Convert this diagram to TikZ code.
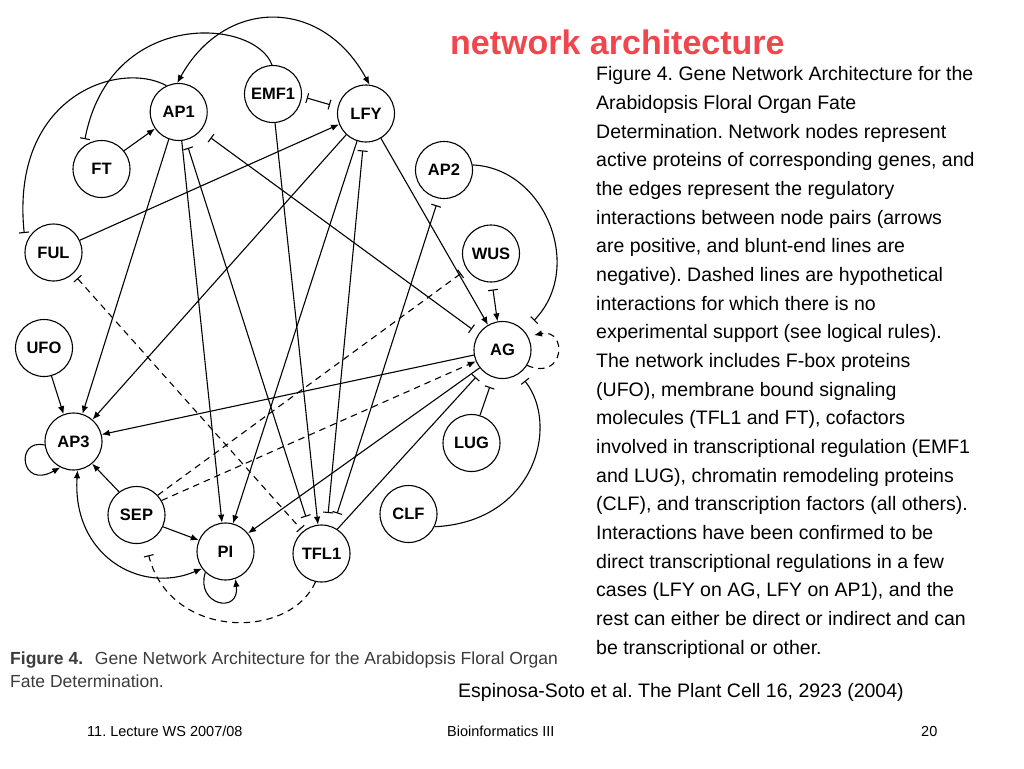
\documentclass[tikz,border=0pt]{standalone}
\usepackage{fontspec}
\setmainfont{Liberation Sans}
\usetikzlibrary{arrows.meta}
\definecolor{titlered}{RGB}{240,70,78}
\definecolor{capgray}{RGB}{60,60,60}
\frenchspacing
\begin{document}
\begin{tikzpicture}[x=1pt,y=-1pt,
  gene/.style={circle,draw,line width=1.1pt,minimum size=57pt,inner sep=0pt,font=\fontsize{16.5}{17}\selectfont\bfseries},
  link/.style={line width=1.1pt},
  act/.style={link,-{Latex[length=8pt,width=6.5pt]}},
  act2/.style={link,{Latex[length=8pt,width=6.5pt]}-{Latex[length=8pt,width=6.5pt]}},
  inh/.style={link,-{Bar[width=10pt]}},
  inh2/.style={link,{Bar[width=10pt]}-{Bar[width=10pt]}},
  inhact/.style={link,{Bar[width=10pt]}-{Latex[length=8pt,width=6.5pt]}},
  hyp/.style={dash pattern=on 6.5pt off 5pt},
  body/.style={anchor=base west,inner sep=0pt,font=\fontsize{19.5}{20}\selectfont},
  caption/.style={anchor=base west,inner sep=0pt,text=capgray,font=\fontsize{17.5}{18}\selectfont},
  footer/.style={anchor=base west,inner sep=0pt,font=\fontsize{14.5}{15}\selectfont}
]
\useasboundingbox (0,0) rectangle (1024,768);
\fill[white] (0,0) rectangle (1024,768);

% nodes
\node[gene] (AP1)  at (178.7,112) {AP1};
\node[gene] (EMF1) at (273,94) {EMF1};
\node[gene] (LFY)  at (366,113.5) {LFY};
\node[gene] (FT)   at (101.5,169) {FT};
\node[gene] (AP2)  at (444,170) {AP2};
\node[gene] (FUL)  at (53.5,252.5) {FUL};
\node[gene] (WUS)  at (491,253.5) {WUS};
\node[gene] (UFO)  at (44,348) {UFO};
\node[gene] (AG)   at (502.5,350) {AG};
\node[gene] (AP3)  at (73.5,441.5) {AP3};
\node[gene] (LUG)  at (471.5,443) {LUG};
\node[gene] (CLF)  at (408.5,514) {CLF};
\node[gene] (SEP)  at (136.5,515) {SEP};
\node[gene] (PI)   at (225.5,551.5) {PI};
\node[gene] (TFL1) at (321.5,553.5) {TFL1};

% top arcs
\draw[act2] (AP1.93) .. controls (225,-3) and (322,-3) .. (LFY.83);
\draw[inh, shorten >=7pt] (EMF1.92) .. controls (255,18) and (110,8) .. (FT.128);
\draw[inh, shorten >=12pt] (AP1.115) .. controls (120,60) and (10,95) .. (FUL.165);

% straight edges
\draw[act] (FT.39) -- (AP1.215);
\draw[act] (FUL.25) -- (LFY.202);
\draw[inh2, shorten <=5pt, shorten >=8pt] (EMF1.355) -- (LFY.167);
\draw[act] (AP1.250) -- (AP3.72);
\draw[act] (UFO.285) -- (AP3.110);
\draw[act] (LFY.227) -- (AP3.49);
\draw[act] (AP1.276) -- (PI.97);
\draw[act] (LFY.252) -- (PI.75);
\draw[act] (EMF1.274) -- (TFL1.97);
\draw[inh2, shorten <=8pt, shorten >=11pt] (AP1.284) -- (TFL1.115);
\draw[inh2, shorten <=8pt, shorten >=12pt] (LFY.265) -- (TFL1.79);
\draw[inh2, shorten <=7pt, shorten >=14pt] (AP2.259) -- (TFL1.67);
\draw[inh2, hyp, shorten <=6pt, shorten >=3pt] (FUL.313) -- (TFL1.130);

% AG edges
\draw[inh2, shorten <=12pt, shorten >=8pt] (AP1.320) -- (AG.146);
\draw[act] (LFY.301) -- (AG.120);
\draw[inhact, shorten <=7pt] (WUS.272) -- (AG.100);
\draw[inh, shorten >=14pt] (AP2.10) .. controls (545,168) and (585,268) .. (AG.42);
\draw[act, hyp, shorten >=6pt] (AG.328) .. controls (565,382) and (568,328) .. (AG.28);
\draw[inh, shorten >=10pt] (LUG.73) -- (AG.251);
\draw[inh, shorten >=9pt] (CLF.334) .. controls (535,522) and (560,425) .. (AG.305);
\draw[inh, shorten >=9pt] (TFL1.57) -- (AG.225);
\draw[act] (AG.218) -- (PI.39);
\draw[act] (AG.190) -- (AP3.14);
\draw[act, hyp] (SEP.30) -- (AG.203);
\draw[inh, hyp, shorten >=7pt] (SEP.43) -- (WUS.213);

% lower left
\draw[act] (SEP.127) -- (AP3.310);
\draw[act] (SEP.336) -- (PI.157);
\draw[act] (AP3.187) .. controls (15,438) and (20,490) .. (AP3.243);
\draw[act2] (AP3.278) .. controls (72,555) and (140,595) .. (PI.216);
\draw[act] (PI.226) .. controls (195,605) and (240,615) .. (PI.290);
\draw[inh, hyp, shorten >=13pt] (TFL1.258) .. controls (290,640) and (170,640) .. (SEP.288);

% title
\node[anchor=base west,inner sep=0pt,text=titlered,font=\fontsize{34}{36}\selectfont\bfseries] (title) at (450,55) {network architecture};

% body text
\node[body] (b1)  at (596,81)     {Figure 4. Gene Network Architecture for the};
\node[body] (b2)  at (596,109.65) {Arabidopsis Floral Organ Fate};
\node[body] (b3)  at (596,138.3)  {Determination. Network nodes represent};
\node[body] (b4)  at (596,166.95) {active proteins of corresponding genes, and};
\node[body] (b5)  at (596,195.6)  {the edges represent the regulatory};
\node[body] (b6)  at (596,224.25) {interactions between node pairs (arrows};
\node[body] (b7)  at (596,252.9)  {are positive, and blunt-end lines are};
\node[body] (b8)  at (596,281.55) {negative). Dashed lines are hypothetical};
\node[body] (b9)  at (596,310.2)  {interactions for which there is no};
\node[body] (b10) at (596,338.85) {experimental support (see logical rules).};
\node[body] (b11) at (596,367.5)  {The network includes F-box proteins};
\node[body] (b12) at (596,396.15) {(UFO), membrane bound signaling};
\node[body] (b13) at (596,424.8)  {molecules (TFL1 and FT), cofactors};
\node[body] (b14) at (596,453.45) {involved in transcriptional regulation (EMF1};
\node[body] (b15) at (596,482.1)  {and LUG), chromatin remodeling proteins};
\node[body] (b16) at (596,510.75) {(CLF), and transcription factors (all others).};
\node[body] (b17) at (596,539.4)  {Interactions have been confirmed to be};
\node[body] (b18) at (596,568.05) {direct transcriptional regulations in a few};
\node[body] (b19) at (596,596.7)  {cases (LFY on AG, LFY on AP1), and the};
\node[body] (b20) at (596,625.35) {rest can either be direct or indirect and can};
\node[body] (b21) at (596,654)    {be transcriptional or other.};

% figure caption
\node[caption] (cap1) at (10,664) {\textbf{Figure 4.}\hspace{0.4em} Gene Network Architecture for the Arabidopsis Floral Organ};
\node[caption] (cap2) at (10,687) {Fate Determination.};

% citation
\node[body] (cite) at (458,697) {Espinosa-Soto et al. The Plant Cell 16, 2923 (2004)};

% footer
\node[footer] (f1) at (87,736) {11. Lecture WS 2007/08};
\node[footer] (f2) at (447,736) {Bioinformatics III};
\node[footer] (f3) at (921,736) {20};
\end{tikzpicture}
\end{document}
